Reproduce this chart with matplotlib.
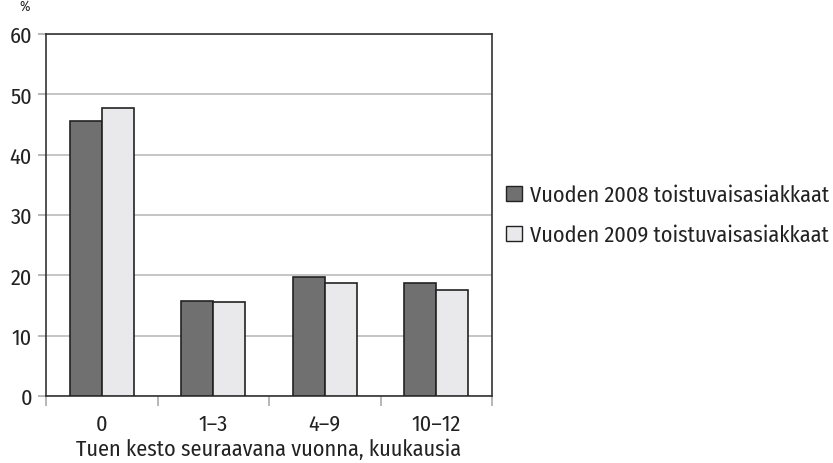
import matplotlib
matplotlib.use("Agg")
import matplotlib.pyplot as plt
import numpy as np
from matplotlib.patches import Patch

plt.rcParams['font.family'] = ['Fira Sans Condensed', 'DejaVu Sans']

categories = ["0", "1–3", "4–9", "10–12"]
series_names = ["Vuoden 2008 toistuvaisasiakkaat", "Vuoden 2009 toistuvaisasiakkaat"]
values_2008 = [45.6, 15.8, 19.7, 18.7]
values_2009 = [47.8, 15.6, 18.8, 17.6]
yticks = [0, 10, 20, 30, 40, 50, 60]
xlabel = "Tuen kesto seuraavana vuonna, kuukausia"
unit = "%"

c_dark = "#707070"
c_light = "#e9e9ec"
edge = "#222222"
FS = 16

fig = plt.figure(figsize=(8.33, 4.64), dpi=100)
ax = fig.add_axes([46/833, 1-397/464, (492-46)/833, (397-35)/464])

x = np.arange(len(categories))
w = 0.285
ax.bar(x - w/2, values_2008, w, color=c_dark, edgecolor=edge, linewidth=1.2, zorder=3)
ax.bar(x + w/2, values_2009, w, color=c_light, edgecolor=edge, linewidth=1.2, zorder=3)

ax.set_xlim(-0.5, len(categories) - 0.5)
ax.set_ylim(0, 60)
ax.set_yticks(yticks)
ax.set_yticklabels([str(t) for t in yticks], fontsize=FS, color='#222222')
ax.set_xticks(x)
ax.set_xticklabels(categories, fontsize=FS, color='#222222')
ax.tick_params(axis='x', length=0, pad=12)
ax.set_xticks(np.arange(-0.5, len(categories)), minor=True)
ax.tick_params(axis='x', which='minor', length=7, color='#aaaaaa', width=1.2)
ax.tick_params(axis='y', length=6, color='#aaaaaa', width=1.2, pad=4)
ax.grid(axis='y', color='#bbbbbb', linewidth=1.2, zorder=0)
for s in ax.spines.values():
    s.set_color('#333333')
    s.set_linewidth(1.2)
ax.set_xlabel(xlabel, fontsize=FS, labelpad=3, color='#222222')

fig.text(25/833, 1-7/464, unit, fontsize=10, ha='center', va='center', color='#222222')

handles = [Patch(facecolor=c_dark, edgecolor=edge, linewidth=1.0),
           Patch(facecolor=c_light, edgecolor=edge, linewidth=1.0)]
fig.legend(handles, series_names, loc='center left', bbox_to_anchor=(506/833, 1-216/464),
           frameon=False, fontsize=FS, handlelength=0.7, handleheight=0.7,
           handletextpad=0.4, labelspacing=0.85, borderpad=0, borderaxespad=0,
           labelcolor='#222222')

fig.savefig("out.png", dpi=100)
